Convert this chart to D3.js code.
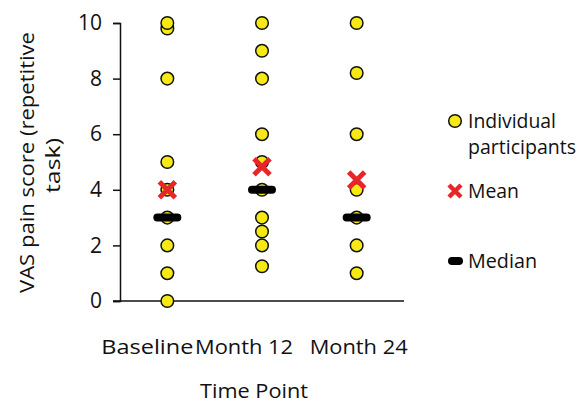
<!DOCTYPE html>
<html>
<head>
<meta charset="utf-8">
<script src="https://cdn.jsdelivr.net/npm/d3@7"></script>
<style>
  body { margin: 0; background: #fff; }
  text { font-family: "Open Sans", sans-serif; fill: #111; }
</style>
</head>
<body>
<script>
const categories = ["Baseline", "Month 12", "Month 24"];
const baseline = [0, 1, 2, 3, 4, 5, 8, 9.8, 10];
const month12 = [1.25, 2, 2.5, 3, 4, 5, 6, 8, 9, 10];
const month24 = [1, 2, 3, 4, 6, 8.2, 10];
const means = [4.0, 4.83, 4.35];
const medians = [3, 4, 3];
const yTicks = [0, 2, 4, 6, 8, 10];

const W = 583, H = 403;
const yellow = "#f7e914", red = "#e8262a";
const fpx = "20px";

const svg = d3.select("body").append("svg")
  .attr("width", W).attr("height", H);

// stretch a text to the width it has in the original (Calibri is not available)
const fit = (sel, w) => sel.attr("textLength", w).attr("lengthAdjust", "spacingAndGlyphs");

const x = d3.scalePoint().domain(categories).range([120, 404]).padding(0.5);
const y = d3.scaleLinear().domain([0, 10]).range([301, 23]);

// axes
const yAxis = svg.append("g")
  .attr("transform", "translate(120,0)")
  .call(d3.axisLeft(y).tickValues(yTicks).tickSize(7).tickPadding(11));
yAxis.select(".domain").attr("stroke", "#111").attr("stroke-width", 1.5);
yAxis.selectAll(".tick line").attr("stroke", "#111").attr("stroke-width", 1.5);
yAxis.selectAll(".tick text").style("font-size", "21px").attr("fill", "#111")
  .style("font-family", "'Open Sans', sans-serif");

svg.append("line")
  .attr("x1", 113).attr("x2", 404)
  .attr("y1", y(0)).attr("y2", y(0))
  .attr("stroke", "#111").attr("stroke-width", 1.5);

// category labels (Excel nudges overlapping labels)
const labelShift = [-20, -18, 2];
const labelW = [92, 98, 98];
svg.append("g").selectAll("text").data(categories).join("text")
  .attr("x", (d, i) => x(d) + labelShift[i] - labelW[i] / 2)
  .attr("y", 354)
  .style("font-size", fpx)
  .attr("textLength", (d, i) => labelW[i]).attr("lengthAdjust", "spacingAndGlyphs")
  .text(d => d);

fit(svg.append("text")
  .attr("x", 200).attr("y", 398)
  .style("font-size", fpx)
  .text("Time Point"), 108);

const yt = svg.append("g").attr("transform", "rotate(-90)");
fit(yt.append("text").attr("x", -293).attr("y", 33.5)
  .style("font-size", fpx).text("VAS pain score (repetitive"), 261);
fit(yt.append("text").attr("x", -193).attr("y", 59.5)
  .style("font-size", fpx).text("task)"), 55);

// points
const series = [baseline, month12, month24];
const pts = series.flatMap((vals, i) => vals.map(v => ({ c: categories[i], v })));
svg.append("g").selectAll("circle").data(pts).join("circle")
  .attr("cx", d => x(d.c)).attr("cy", d => y(d.v))
  .attr("r", 6.3)
  .attr("fill", yellow).attr("stroke", "#111").attr("stroke-width", 1.5);

// medians
svg.append("g").selectAll("rect").data(medians).join("rect")
  .attr("x", (d, i) => x(categories[i]) - 14)
  .attr("y", d => y(d) - 4)
  .attr("width", 28).attr("height", 8).attr("rx", 4)
  .attr("fill", "#000");

// means
const cross = (g, cx, cy, s, w) => {
  g.append("path")
    .attr("d", `M${cx - s},${cy - s}L${cx + s},${cy + s}M${cx - s},${cy + s}L${cx + s},${cy - s}`)
    .attr("stroke", red).attr("stroke-width", w).attr("fill", "none");
};
const meanG = svg.append("g");
means.forEach((m, i) => cross(meanG, x(categories[i]), y(m), 8, 5));

// legend
const lg = svg.append("g");
lg.append("circle").attr("cx", 455).attr("cy", 121).attr("r", 6.3)
  .attr("fill", yellow).attr("stroke", "#111").attr("stroke-width", 1.5);
cross(lg, 455, 191, 6, 4.5);
lg.append("rect").attr("x", 448).attr("y", 257).attr("width", 15).attr("height", 8)
  .attr("rx", 4).attr("fill", "#000");
const lt = [["Individual", 127.5, 88], ["participants", 154, 108], ["Mean", 197.5, 51], ["Median", 267.5, 69]];
lg.selectAll("text").data(lt).join("text")
  .attr("x", 468).attr("y", d => d[1])
  .style("font-size", fpx)
  .attr("textLength", d => d[2]).attr("lengthAdjust", "spacingAndGlyphs")
  .text(d => d[0]);
</script>
</body>
</html>
